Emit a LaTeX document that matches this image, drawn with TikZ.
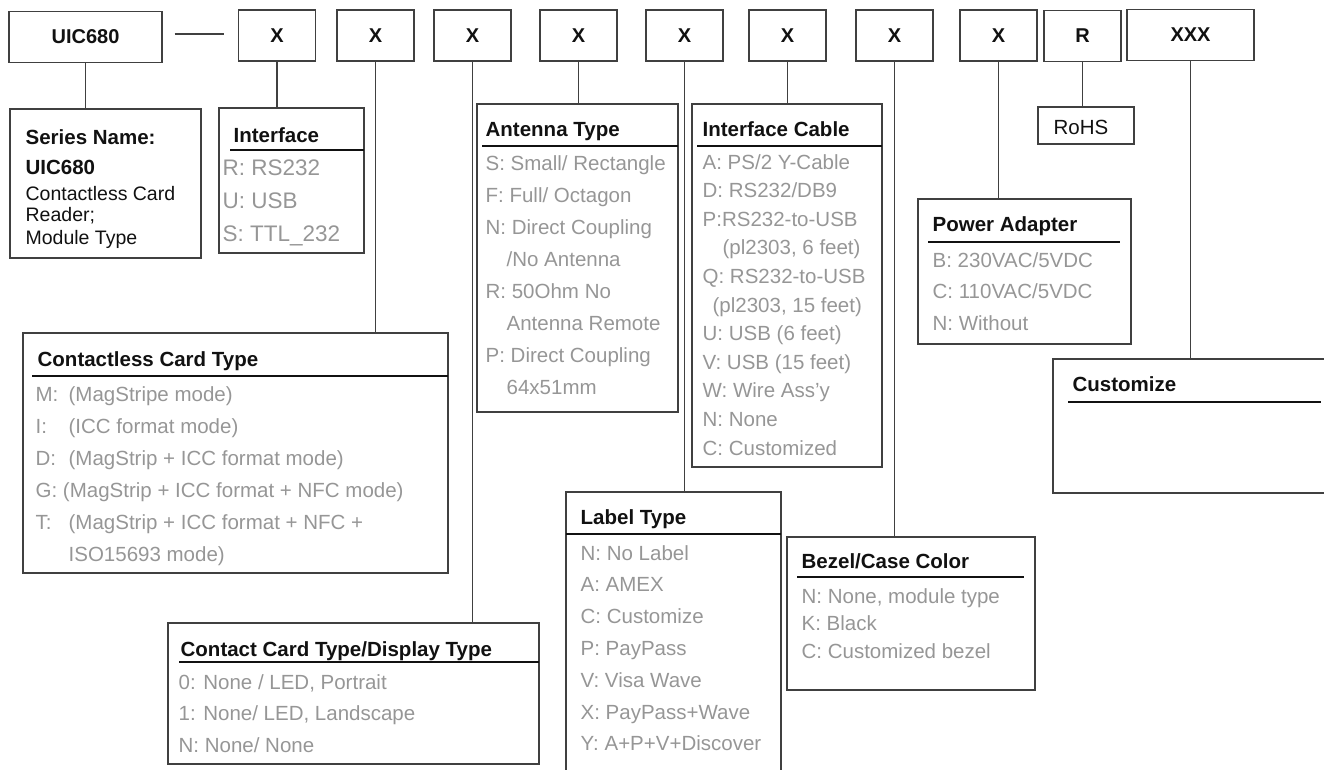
\documentclass[tikz,border=0pt]{standalone}
\usepackage{fontspec}
\setmainfont{Liberation Sans}
\usetikzlibrary{fit}
\definecolor{edge}{RGB}{64,64,64}
\definecolor{ink}{RGB}{17,17,17}
\definecolor{optgray}{RGB}{150,150,150}

\begin{document}
\begin{tikzpicture}[x=1pt, y=-1pt, line width=1.3pt,
  every node/.style={font=\fontsize{20.5}{24}\selectfont},
  code/.style={draw=edge, minimum width=77pt, minimum height=51pt, text=ink, font=\fontsize{20}{24}\selectfont\bfseries},
  panel/.style={draw=edge, inner sep=0pt},
  head/.style={anchor=base west, inner sep=0pt, text=ink, font=\fontsize{20.5}{24}\selectfont\bfseries},
  opt/.style={anchor=base west, inner sep=0pt, text=optgray},
  plain/.style={anchor=base west, inner sep=0pt, text=ink},
  rule/.style={draw=ink}]
  \useasboundingbox (0,0) rectangle (1324,769);
  \clip (0,0) rectangle (1324,769);
  % code row
  \node[code, minimum width=153pt] (uic) at (85.5,37) {UIC680};
  \foreach \n/\x in {1/277, 2/375.5, 3/472.5, 4/578.5, 5/684.5, 6/787.5, 7/894.5, 8/998.5}
    \node[code] (x\n) at (\x,35.5) {X};
  \node[code] (rcode) at (1082.5,36) {R};
  \node[code, minimum width=127pt] (xxx) at (1190.5,35) {XXX};
  \draw[edge] ([xshift=12pt,yshift=3pt]uic.east) -- +(49,0);
  % description boxes
  \node[panel, fit={(10,109) (201,258)}] (series) {};
  \node[panel, fit={(219,108) (364,253)}] (intf) {};
  \node[panel, fit={(23,333) (448,573)}] (cless) {};
  \node[panel, fit={(168,623) (539,764)}] (contact) {};
  \node[panel, fit={(477,104) (678,412)}] (ant) {};
  \node[panel, fit={(692,104) (882,467)}] (cable) {};
  \node[panel, fit={(566,492) (781,800)}] (label) {};
  \node[panel, fit={(787,537) (1035,690)}] (bezel) {};
  \node[panel, fit={(918,199) (1131,344)}] (power) {};
  \node[panel, fit={(1038,107) (1134,144)}] (rohs) {};
  \node[panel, fit={(1053,359) (1340,493)}] (cust) {};
  \foreach \a/\b in {uic/series, x1/intf, x2/cless, x3/contact, x4/ant, x5/label, x6/cable, x7/bezel, x8/power, rcode/rohs, xxx/cust}
    \draw[edge] (\a.south) -- (\a.south |- \b.north);
  % series
  \node[head] (sn-title) at (25,144) {Series Name:};
  \node[head] (sn-name) at (25,174) {UIC680};
  \node[plain, font=\fontsize{19.5}{23}\selectfont] (sn-1) at (25,200) {Contactless Card};
  \node[plain, font=\fontsize{19.5}{23}\selectfont] (sn-2) at (25,221) {Reader;};
  \node[plain, font=\fontsize{19.5}{23}\selectfont] (sn-3) at (25,244) {Module Type};
  % interface
  \node[head] (intf-title) at (233,142) {Interface};
  \draw[rule] (230,150) -- (364,150);
  \foreach \t [count=\i from 0] in {R: RS232, U: USB, S: TTL\_232}
    \node[opt, font=\fontsize{22.5}{26}\selectfont] (intf-\i) at (222,175+33*\i) {\t};
  % contactless card type
  \node[head] (cless-title) at (37,366.5) {Contactless Card Type};
  \draw[rule] (32,376) -- (448,376);
  \foreach \t [count=\i from 0] in {\makebox[33pt][l]{M:}(MagStripe mode), \makebox[33pt][l]{I:}(ICC format mode),
      \makebox[33pt][l]{D:}(MagStrip + ICC format mode), G: (MagStrip + ICC format + NFC mode),
      \makebox[33pt][l]{T:}(MagStrip + ICC format + NFC +, \hspace*{33pt}ISO15693 mode)}
    \node[opt] (cless-\i) at (35,401+32*\i) {\t};
  % contact card / display
  \node[head] (contact-title) at (180,656.5) {Contact Card Type/Display Type};
  \draw[rule] (179,662) -- (539,662);
  \foreach \t [count=\i from 0] in {{0: None / LED, Portrait}, {1: None/ LED, Landscape}, N: None/ None}
    \node[opt] (contact-\i) at (178,689+31.5*\i) {\t};
  % antenna
  \node[head] (ant-title) at (485,136.5) {Antenna Type};
  \draw[rule] (482,146) -- (678,146);
  \foreach \t [count=\i from 0] in {S: Small/ Rectangle, F: Full/ Octagon, N: Direct Coupling, \hspace*{21pt}/No Antenna,
      R: 50Ohm No, \hspace*{21pt}Antenna Remote, P: Direct Coupling, \hspace*{21pt}64x51mm}
    \node[opt] (ant-\i) at (485,170+32*\i) {\t};
  % interface cable
  \node[head] (cable-title) at (702,136.5) {Interface Cable};
  \draw[rule] (697,146) -- (882,146);
  \foreach \t [count=\i from 0] in {A: PS/2 Y-Cable, D: RS232/DB9, P:RS232-to-USB, {\hspace*{20pt}(pl2303, 6 feet)},
      Q: RS232-to-USB, {\hspace*{10pt}(pl2303, 15 feet)}, U: USB (6 feet), V: USB (15 feet), W: Wire Ass’y, N: None, C: Customized}
    \node[opt] (cable-\i) at (702,169+28.6*\i) {\t};
  % label
  \node[head] (label-title) at (580,524.5) {Label Type};
  \draw[rule] (566,534) -- (781,534);
  \foreach \t [count=\i from 0] in {N: No Label, A: AMEX, C: Customize, P: PayPass, V: Visa Wave, X: PayPass+Wave, Y: A+P+V+Discover}
    \node[opt] (label-\i) at (580,560+31.8*\i) {\t};
  % bezel
  \node[head] (bezel-title) at (801,568.5) {Bezel/Case Color};
  \draw[rule] (797,577) -- (1024,577);
  \foreach \t [count=\i from 0] in {{N: None, module type}, K: Black, C: Customized bezel}
    \node[opt] (bezel-\i) at (801,603+27.5*\i) {\t};
  % power
  \node[head] (power-title) at (932,231.5) {Power Adapter};
  \draw[rule] (928,242) -- (1120,242);
  \foreach \t [count=\i from 0] in {B: 230VAC/5VDC, C: 110VAC/5VDC, N: Without}
    \node[opt] (power-\i) at (932,267+31.5*\i) {\t};
  % rohs, customize
  \node[plain] (rohs-text) at (1053,134) {RoHS};
  \node[head] (cust-title) at (1072,391.5) {Customize};
  \draw[rule] (1068,402) -- (1321,402);
\end{tikzpicture}
\end{document}
